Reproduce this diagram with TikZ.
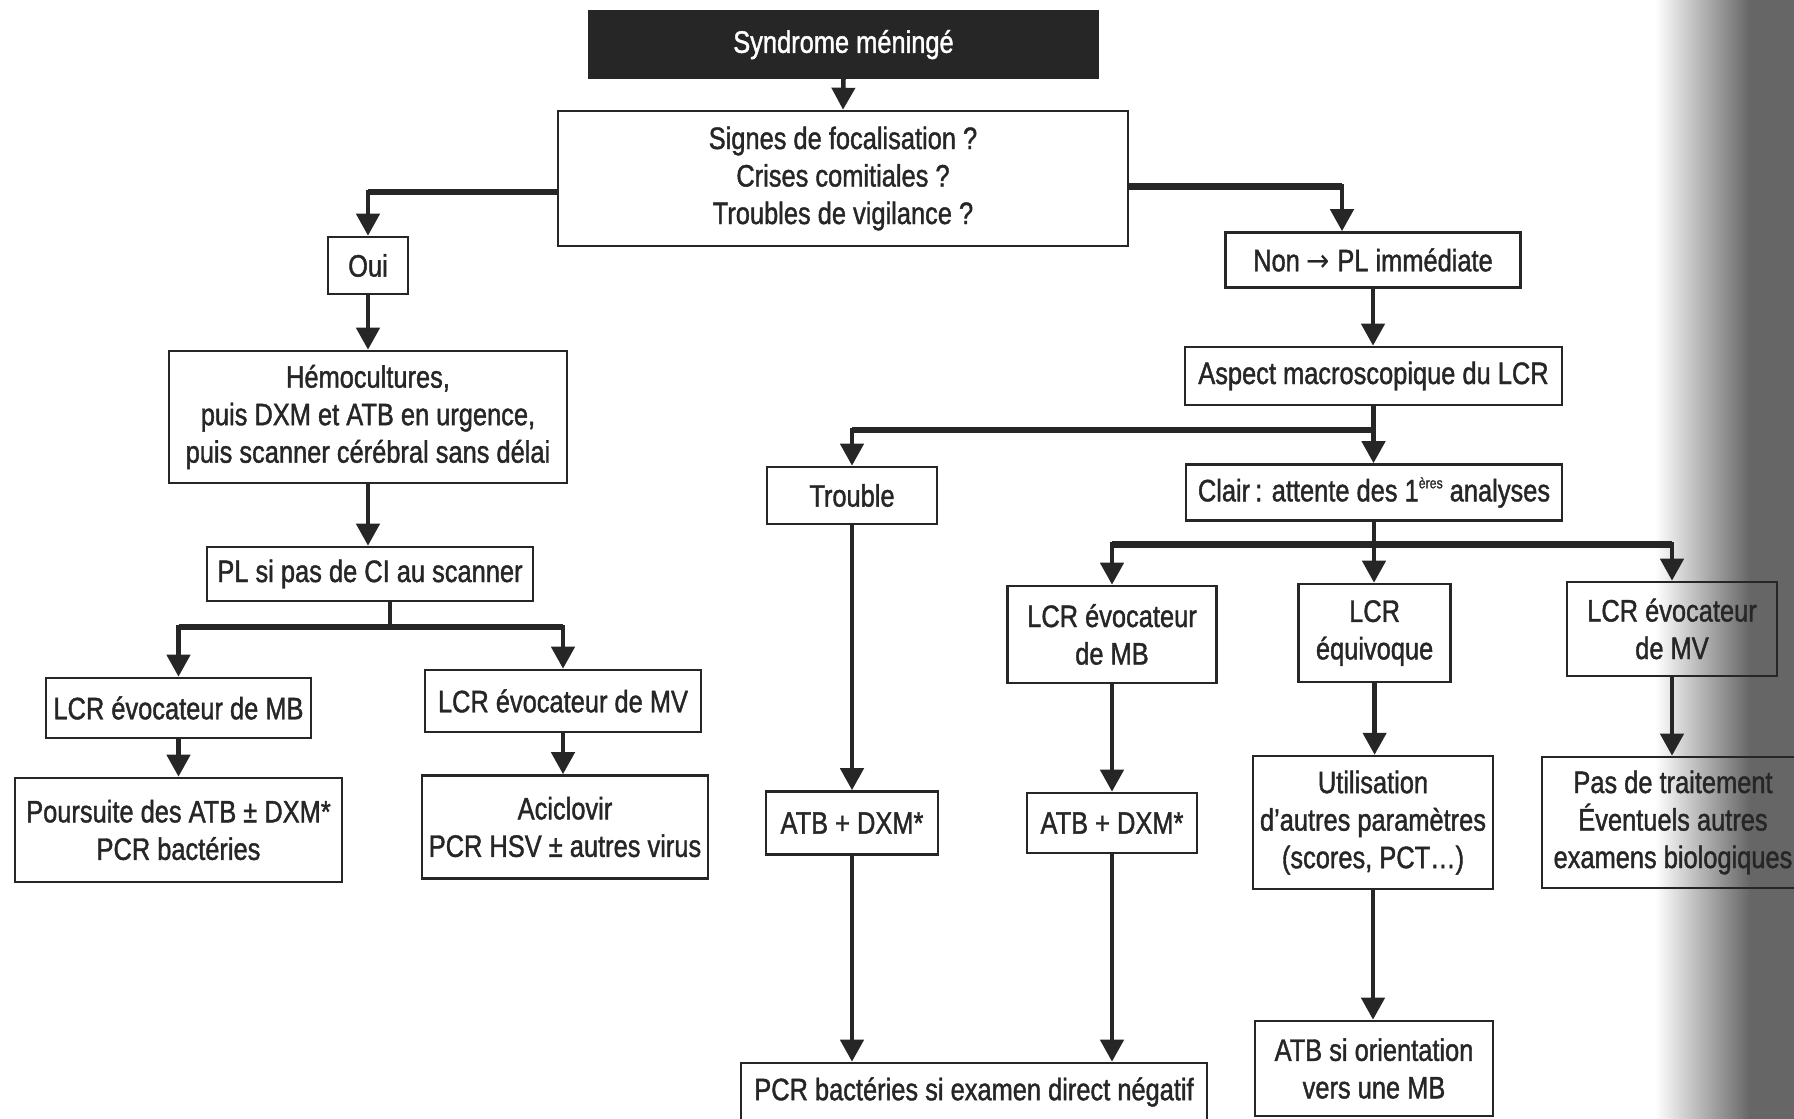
\documentclass[tikz,border=0pt]{standalone}
\usepackage{fontspec}
\setmainfont{Liberation Sans}[FakeStretch=0.82,FakeBold=1.3]
\newfontfamily\arrowfont{DejaVu Sans}[FakeStretch=0.9]
\usetikzlibrary{arrows.meta}
\definecolor{ink}{HTML}{262626}
\newcommand{\supers}[1]{\raisebox{0.42em}{\fontsize{15}{15}\selectfont #1}}
\begin{document}
\begin{tikzpicture}[x=1pt,y=-1pt,
  box/.style={draw=ink, line width=2.6pt, align=center, inner sep=0pt, text=ink,
    font=\fontsize{31}{37.5}\selectfont},
  conn/.style={draw=ink, line width=4.5pt, -{Triangle[length=22pt,width=23pt]}},
  link/.style={draw=ink, line width=4.5pt},
  bar/.style={draw=ink, line width=6.5pt}]
\useasboundingbox (0,0) rectangle (1794,1119);
% page shadow at the right edge
\shade[left color=white, right color=black!60] (1655,0) rectangle (1750,1119);
\fill[black!60] (1750,0) rectangle (1794,1119);

% nodes
\node[box, fill=ink, text=white, minimum width=509pt, minimum height=66pt] (syn) at (843.5,44.6) {Syndrome méningé};
\node[box, minimum width=570pt, minimum height=135pt] (q) at (843,178.5) {Signes de focalisation ?\\Crises comitiales ?\\Troubles de vigilance ?};
\node[box, minimum width=80pt, minimum height=57pt] (oui) at (368,265.5) {Oui};
\node[box, minimum width=398pt, minimum height=132pt] (hemo) at (368,417) {Hémocultures,\\puis DXM et ATB en urgence,\\puis scanner cérébral sans délai};
\node[box, minimum width=326pt, minimum height=54pt] (pl) at (370,574) {PL si pas de CI au scanner};
\node[box, minimum width=265pt, minimum height=60pt] (mbL) at (178.5,708) {LCR évocateur de MB};
\node[box, minimum width=276pt, minimum height=62pt] (mvL) at (563,701) {LCR évocateur de MV};
\node[box, minimum width=327pt, minimum height=104pt] (pours) at (178.5,830) {Poursuite des ATB ± DXM*\\PCR bactéries};
\node[box, minimum width=286pt, minimum height=103pt] (acic) at (565,827) {Aciclovir\\PCR HSV ± autres virus};

\node[box, minimum width=295pt, minimum height=55pt] (non) at (1373,260) {Non {\arrowfont →} PL immédiate};
\node[box, minimum width=377pt, minimum height=58pt] (asp) at (1373.5,376) {Aspect macroscopique du LCR};
\node[box, minimum width=170pt, minimum height=57pt] (trou) at (852,495.5) {Trouble};
\node[box, minimum width=376pt, minimum height=56pt] (clair) at (1374,492.5) {Clair\,: attente des 1\supers{ères} analyses};
\node[box, minimum width=209pt, minimum height=97pt] (mbM) at (1112,634.5) {LCR évocateur\\de MB};
\node[box, minimum width=152pt, minimum height=98pt] (equi) at (1374.6,633) {LCR\\équivoque};
\node[box, minimum width=210pt, minimum height=94pt] (mvR) at (1672,629) {LCR évocateur\\de MV};
\node[box, minimum width=172pt, minimum height=63pt] (atb1) at (852,823) {ATB + DXM*};
\node[box, minimum width=170pt, minimum height=60pt] (atb2) at (1112,823) {ATB + DXM*};
\node[box, minimum width=240pt, minimum height=133pt] (util) at (1373,822.6) {Utilisation\\d’autres paramètres\\(scores, PCT\ldots)};
\node[box, minimum width=262pt, minimum height=131pt] (pas) at (1673,822.5) {Pas de traitement\\Éventuels autres\\examens biologiques};
\node[box, minimum width=238pt, minimum height=95pt] (orient) at (1374,1068.5) {ATB si orientation\\vers une MB};
\node[box, minimum width=466pt, minimum height=58pt] (pcr) at (974,1092) {PCR bactéries si examen direct négatif};

% connectors
\draw[conn] (syn.south) -- (q.north);

\coordinate (qL) at ([yshift=-13.5pt]q.west);
\draw[conn] (qL) -| (oui.north);
\draw[bar] (qL) -- (qL -| oui.north);
\draw[conn] (oui.south) -- (hemo.north);
\draw[conn] (hemo.south) -- (hemo.south |- pl.north);
\coordinate (plJ) at ([xshift=20pt]pl.south |- 0,627);
\draw[link] ([xshift=20pt]pl.south) -- (plJ);
\draw[conn] (plJ) -| (mbL.north);
\draw[conn] (plJ) -| (mvL.north);
\draw[bar] (plJ -| mbL.north) -- (plJ -| mvL.north);
\draw[conn] (mbL.south) -- (pours.north);
\draw[conn] (mvL.south) -- (mvL.south |- acic.north);

\coordinate (qR) at ([yshift=-8pt]q.east);
\coordinate (nonIn) at ([xshift=-31pt]non.north);
\draw[conn] (qR) -| (nonIn);
\draw[bar] (qR) -- (qR -| nonIn);
\draw[conn] (non.south) -- (non.south |- asp.north);
\coordinate (aspJ) at (asp.south |- 0,430);
\draw[link] (asp.south) -- (aspJ);
\draw[conn] (aspJ) -| (trou.north);
\draw[conn] (aspJ) -- (aspJ |- clair.north);
\draw[bar] (aspJ) -- (aspJ -| trou.north);
\draw[conn] (trou.south) -- (atb1.north);
\draw[conn] (atb1.south) -- (atb1.south |- pcr.north);

\coordinate (clJ) at (clair.south |- 0,544.6);
\draw[link] (clair.south) -- (clJ);
\draw[conn] (clJ) -| (mbM.north);
\draw[conn] (clJ) -- (clJ |- equi.north);
\draw[conn] (clJ) -| (mvR.north);
\draw[bar] (clJ -| mbM.north) -- (clJ -| mvR.north);
\draw[conn] (mbM.south) -- (atb2.north);
\draw[conn] (atb2.south) -- (atb2.south |- pcr.north);
\draw[conn] (equi.south) -- (equi.south |- util.north);
\draw[conn] (util.south) -- (util.south |- orient.north);
\draw[conn] (mvR.south) -- (mvR.south |- pas.north);
\end{tikzpicture}
\end{document}
